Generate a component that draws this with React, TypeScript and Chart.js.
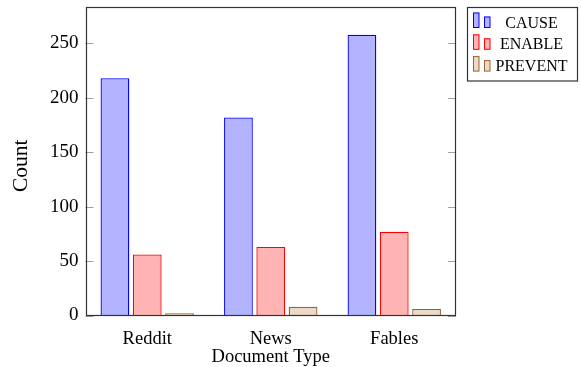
import React, { useEffect, useRef } from "react";
import { Chart, registerables } from "chart.js";

Chart.register(...registerables);

const categories = ["Reddit", "News", "Fables"];
const seriesLabels = ["CAUSE", "ENABLE", "PREVENT"];
const causeValues = [218, 182, 258];
const enableValues = [56, 63, 77];
const preventValues = [2, 8, 6];
const yTickValues = [0, 50, 100, 150, 200, 250];
const yMax = 283.5;
const yTitle = "Count";
const xTitle = "Document Type";

const fillColors = ["rgb(179,179,255)", "rgb(255,179,179)", "rgb(236,217,198)"];
const lineColors = ["rgb(0,0,255)", "rgb(255,0,0)", "rgb(150,100,50)"];

const SERIF = "'Liberation Serif', 'Times New Roman', serif";

const framePlugin = {
  id: "frame",
  afterDatasetsDraw(chart: any) {
    const { ctx, chartArea } = chart;
    const y = chart.scales.y;
    ctx.save();
    ctx.strokeStyle = "#a0a0a0";
    ctx.lineWidth = 1;
    yTickValues.forEach((v) => {
      const py = Math.round(y.getPixelForValue(v)) + 0.5;
      ctx.beginPath();
      ctx.moveTo(chartArea.left, py);
      ctx.lineTo(chartArea.left + 8, py);
      ctx.moveTo(chartArea.right, py);
      ctx.lineTo(chartArea.right - 8, py);
      ctx.stroke();
    });
    ctx.strokeStyle = "#333";
    ctx.lineWidth = 1.2;
    const l = Math.round(chartArea.left) + 0.5;
    const r = Math.round(chartArea.right) - 0.5;
    const t = Math.round(chartArea.top) + 0.5;
    const b = Math.round(chartArea.bottom) - 0.5;
    ctx.strokeRect(l, t, r - l, b - t);

    // y-axis title
    ctx.fillStyle = "#000";
    ctx.font = `21.5px ${SERIF}`;
    ctx.textAlign = "center";
    ctx.textBaseline = "alphabetic";
    ctx.translate(26.5, (chartArea.top + chartArea.bottom) / 2 + 4.5);
    ctx.rotate(-Math.PI / 2);
    ctx.fillText(yTitle, 0, 0);
    ctx.restore();
  },
};

const legendPlugin = {
  id: "boxLegend",
  afterDraw(chart: any) {
    const { ctx } = chart;
    const bx = 467.5;
    const by = 7.5;
    const bw = 110;
    const bh = 73.5;
    ctx.save();
    ctx.fillStyle = "#fff";
    ctx.fillRect(bx, by, bw, bh);
    ctx.strokeStyle = "#333";
    ctx.lineWidth = 1.2;
    ctx.strokeRect(bx, by, bw, bh);
    ctx.font = `16px ${SERIF}`;
    ctx.textAlign = "center";
    ctx.textBaseline = "alphabetic";
    ctx.lineWidth = 1;
    seriesLabels.forEach((label, i) => {
      const base = 27.5 + i * 21.8;
      ctx.fillStyle = fillColors[i];
      ctx.strokeStyle = lineColors[i];
      ctx.fillRect(473, base - 15, 6, 15);
      ctx.strokeRect(473.5, base - 14.5, 5.5, 14.5);
      ctx.fillRect(484, base - 11, 6, 11);
      ctx.strokeRect(484.5, base - 10.5, 5.5, 10.5);
      ctx.fillStyle = "#000";
      ctx.fillText(label, 531.5, base);
    });
    ctx.restore();
  },
};

export default function App() {
  const canvasRef = useRef<HTMLCanvasElement | null>(null);

  useEffect(() => {
    const canvas = canvasRef.current;
    if (!canvas) return;
    const seriesValues = [causeValues, enableValues, preventValues];
    const chart = new Chart(canvas, {
      type: "bar",
      data: {
        labels: categories,
        datasets: seriesLabels.map((label, i) => ({
          label,
          data: seriesValues[i],
          backgroundColor: fillColors[i],
          borderColor: lineColors[i],
          borderWidth: 1.3,
          categoryPercentage: 0.785,
          barPercentage: 0.89,
        })),
      },
      options: {
        responsive: false,
        devicePixelRatio: 1,
        animation: false,
        layout: { padding: { top: 7, right: 125, left: 0, bottom: 0 } },
        plugins: {
          legend: { display: false },
          tooltip: { enabled: false },
        },
        scales: {
          x: {
            type: "category",
            offset: true,
            afterFit: (s: any) => {
              s.height = 51.5;
              s.paddingLeft = 0;
              s.paddingRight = 0;
            },
            grid: { display: false, drawTicks: false },
            border: { display: false },
            ticks: {
              color: "#000",
              padding: 13,
              font: { family: SERIF, size: 18.5 },
            },
            title: {
              display: true,
              text: xTitle,
              color: "#000",
              font: { family: SERIF, size: 18.5 },
              padding: { top: 0, bottom: -1 },
            },
          },
          y: {
            min: 0,
            max: yMax,
            afterFit: (s: any) => {
              s.width = 85.5;
              s.paddingTop = 0;
              s.paddingBottom = 0;
            },
            grid: { display: false, drawTicks: false },
            border: { display: false },
            ticks: {
              stepSize: 50,
              includeBounds: false,
              color: "#000",
              padding: 7,
              font: { family: SERIF, size: 19 },
            },
            title: { display: false },
          },
        },
      },
      plugins: [framePlugin, legendPlugin],
    });
    return () => chart.destroy();
  }, []);

  return (
    <div style={{ position: "absolute", left: 0, top: 0, width: 581, height: 367 }}>
      <canvas ref={canvasRef} width={581} height={367} />
    </div>
  );
}
